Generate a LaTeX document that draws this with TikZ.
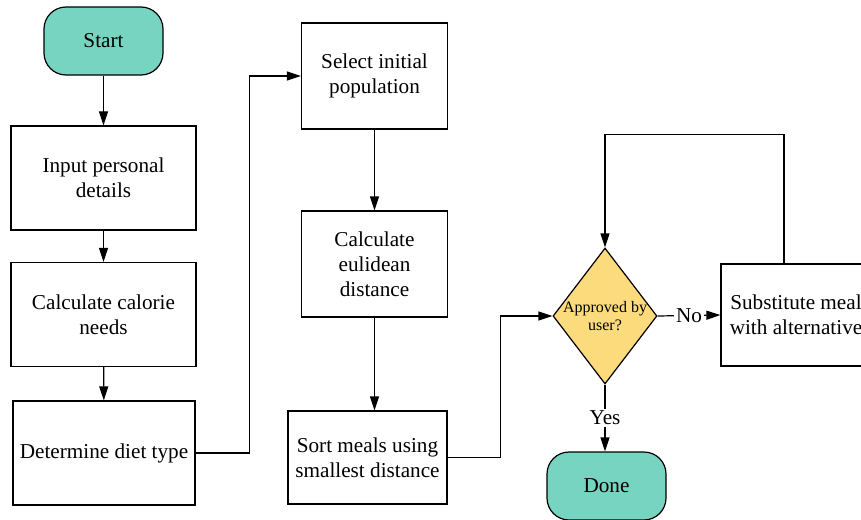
\documentclass[tikz,border=0pt]{standalone}
\usepackage{fontspec}
\setmainfont{Liberation Serif}
\usetikzlibrary{arrows.meta,shapes.geometric}
\definecolor{termcol}{RGB}{118,212,192}
\definecolor{askcol}{RGB}{252,219,124}
\begin{document}
\begin{tikzpicture}[x=0.5pt, y=-0.5pt, line width=0.6pt,
	font=\fontsize{10.6}{12.5}\selectfont,
	box/.style={rectangle, draw, inner sep=0pt, align=center},
	term/.style={box, fill=termcol, rounded corners=11pt, minimum width=59.5pt, minimum height=34pt},
	ask/.style={diamond, draw, fill=askcol, inner sep=0pt, minimum width=52pt, minimum height=68pt},
	arr/.style={-{Triangle[length=7pt,width=4.5pt]}},
	tag/.style={fill=white, inner sep=1pt}]
	    \useasboundingbox (0,0) rectangle (861,519);
	    \clip (0,0) rectangle (861,519);

	    \node[term] (start) at (103.5,41) {Start};
	    \node[box, minimum width=92.5pt, minimum height=52pt] (input) at (103.5,178) {Input personal\\details};
	    \node[box, minimum width=92.5pt, minimum height=52pt] (calorie) at (103.5,314.5) {Calculate calorie\\needs};
	    \node[box, minimum width=91pt, minimum height=52pt] (diet) at (104,453) {Determine diet type};
	    \node[box, minimum width=73pt, minimum height=53pt] (select) at (374.5,76) {Select initial\\population};
	    \node[box, minimum width=73pt, minimum height=53pt] (dist) at (374.5,264) {Calculate\\eulidean\\distance};
	    \node[box, minimum width=79.5pt, minimum height=46.5pt] (sort) at (367.5,457.5) {Sort meals using\\smallest distance};
	    \node[ask, label={[font=\fontsize{8}{9}\selectfont, align=center]center:Approved by\\user?}] (approve) at (605,316) {};
	    \node[box, minimum width=75pt, minimum height=51pt] (subst) at (796,315) {Substitute meal\\with alternative};
	    \node[term] (done) at (606.5,486) {Done};

	    \draw[arr] (start) -- (input);
	    \draw[arr] (input) -- (calorie);
	    \draw[arr] (calorie) -- (diet);
	    \draw[arr] (diet.east) -- ++(54,0) |- (select.west);
	    \draw[arr] (select) -- (dist);
	    \draw[arr] (dist.south) -- (dist.south |- sort.north);
	    \draw[arr] (sort.east) -- ++(53,0) |- (approve.west);
	    \draw[arr] (approve.east) -- (subst.west) node[midway, tag] {No};
	    \draw[arr] ([xshift=-6pt]subst.north) -- ++(0,-129) -| (approve.north);
	    \draw[arr] (approve.south) -- (approve.south |- done.north) node[midway, tag] {Yes};
	\end{tikzpicture}
\end{document}
